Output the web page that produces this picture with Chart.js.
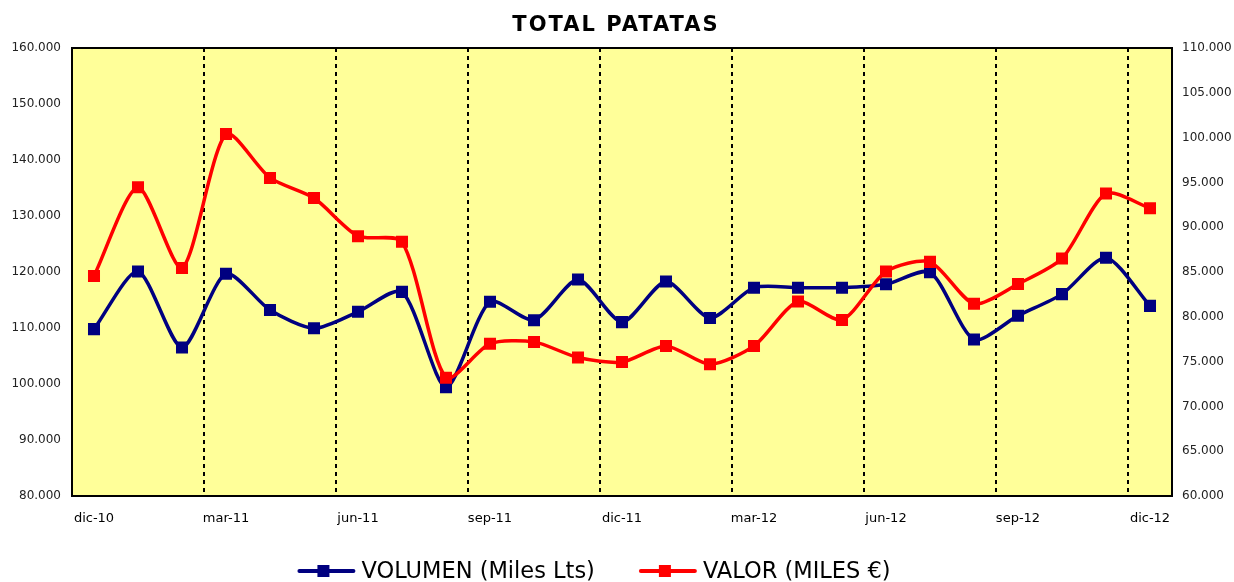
<!DOCTYPE html>
<html>
<head>
<meta charset="utf-8">
<title>Total patatas</title>
<script src="https://cdn.jsdelivr.net/npm/chart.js@4.4.0/dist/chart.umd.min.js"></script>
<style>
html, body { margin: 0; padding: 0; background: #fff; }
</style>
</head>
<body>
<canvas id="chart" width="1234" height="582"></canvas>
<script>
// months shown on the x axis (only every third label is printed)
var months = ['dic-10', 'ene-11', 'feb-11', 'mar-11', 'abr-11', 'may-11', 'jun-11', 'jul-11', 'ago-11',
    'sep-11', 'oct-11', 'nov-11', 'dic-11', 'ene-12', 'feb-12', 'mar-12', 'abr-12', 'may-12', 'jun-12',
    'jul-12', 'ago-12', 'sep-12', 'oct-12', 'nov-12', 'dic-12'];

// VOLUMEN (Miles Lts) - left axis
var volumen = [109800, 120100, 106500, 119700, 113200, 109950, 112900, 116450, 99400,
    114700, 111400, 118650, 111050, 118300, 111800, 117200, 117200, 117200, 117800,
    119950, 107950, 112200, 116050, 122550, 113950];

// VALOR (MILES €) - right axis
var valor = [84550, 94450, 85450, 100400, 95500, 93250, 89000, 88370, 73200,
    77000, 77200, 75450, 74950, 76750, 74700, 76750, 81700, 79650, 85050,
    86130, 81450, 83660, 86500, 93750, 92120];

var leftMin = 80000, leftMax = 160000, leftStep = 10000;
var rightMin = 60000, rightMax = 110000, rightStep = 5000;

var chartTitle = 'TOTAL PATATAS';

function miles(v) {
    return Math.round(v).toString().replace(/\B(?=(\d{3})+(?!\d))/g, '.');
}

// yellow plot area, black frame, title and the legend (line + square marker)
var frameAndLegend = {
    id: 'frameAndLegend',
    beforeDraw: function(chart) {
        var a = chart.chartArea, ctx = chart.ctx;
        ctx.save();
        ctx.fillStyle = '#FFFF99';
        ctx.fillRect(a.left, a.top, a.right - a.left, a.bottom - a.top);
        ctx.restore();
    },
    afterDraw: function(chart) {
        var a = chart.chartArea, ctx = chart.ctx;
        ctx.save();
        ctx.strokeStyle = '#000';
        ctx.lineWidth = 2;
        ctx.strokeRect(a.left, a.top, a.right - a.left, a.bottom - a.top);

        // title
        ctx.fillStyle = '#000';
        ctx.font = 'bold 21px "DejaVu Sans"';
        ctx.letterSpacing = '2px';
        ctx.textAlign = 'center';
        ctx.textBaseline = 'middle';
        ctx.fillText(chartTitle, 616, 26);
        ctx.letterSpacing = '0px';

        // legend
        var sets = chart.data.datasets;
        var lineLen = 58, textGap = 6, itemGap = 44;
        ctx.font = '22.5px "DejaVu Sans"';
        var widths = sets.map(function(ds) {
            return lineLen + textGap + ctx.measureText(ds.label).width;
        });
        var total = widths.reduce(function(s, w) { return s + w; }, 0) + itemGap * (sets.length - 1);
        var x = 594 - total / 2;
        var y = 571;
        ctx.textAlign = 'left';
        sets.forEach(function(ds, i) {
            ctx.strokeStyle = ds.borderColor;
            ctx.lineWidth = 4;
            ctx.lineCap = 'round';
            ctx.beginPath();
            ctx.moveTo(x + 2, y);
            ctx.lineTo(x + lineLen - 2, y);
            ctx.stroke();
            ctx.fillStyle = ds.borderColor;
            ctx.fillRect(x + 26 - 6, y - 6, 12, 12);
            ctx.fillStyle = '#000';
            ctx.fillText(ds.label, x + lineLen + textGap, y + 1);
            x += widths[i] + itemGap;
        });
        ctx.restore();
    }
};

var ctx = document.getElementById('chart').getContext('2d');
new Chart(ctx, {
    type: 'line',
    data: {
        labels: months,
        datasets: [{
            label: 'VOLUMEN (Miles Lts)',
            data: volumen,
            yAxisID: 'y',
            borderColor: '#000080',
            backgroundColor: '#000080',
            borderWidth: 3.5,
            tension: 0.25,
            pointStyle: 'rect',
            pointRadius: 8.5,
            pointBorderWidth: 0,
            pointBackgroundColor: '#000080',
            order: 1
        }, {
            label: 'VALOR (MILES €)',
            data: valor,
            yAxisID: 'y1',
            borderColor: '#FF0000',
            backgroundColor: '#FF0000',
            borderWidth: 3.5,
            tension: 0.25,
            pointStyle: 'rect',
            pointRadius: 8.5,
            pointBorderWidth: 0,
            pointBackgroundColor: '#FF0000',
            order: 0
        }]
    },
    options: {
        responsive: false,
        animation: false,
        layout: { padding: { left: 0, right: 0, top: 48, bottom: 52 } },
        plugins: {
            legend: { display: false },
            title: { display: false },
            tooltip: { enabled: false }
        },
        scales: {
            x: {
                offset: true,
                grid: {
                    offset: true,
                    drawTicks: false,
                    lineWidth: 2,
                    borderDash: [4, 4],
                    color: function(c) { return c.index % 3 === 0 ? '#000' : 'rgba(0,0,0,0)'; }
                },
                border: { display: false, dash: [4, 4] },
                ticks: {
                    autoSkip: false,
                    maxRotation: 0,
                    padding: 15,
                    color: '#000',
                    font: { family: 'DejaVu Sans', size: 13 },
                    callback: function(v, i) { return i % 3 === 0 ? this.getLabelForValue(v) : ''; }
                },
                afterFit: function(s) { s.height = 34; }
            },
            y: {
                position: 'left',
                min: leftMin,
                max: leftMax,
                grid: { display: false, drawTicks: false },
                border: { display: false },
                ticks: {
                    stepSize: leftStep,
                    padding: 11,
                    color: '#222',
                    font: { family: 'DejaVu Sans', size: 12 },
                    callback: function(v) { return miles(v); }
                },
                afterFit: function(s) { s.width = 72; }
            },
            y1: {
                position: 'right',
                min: rightMin,
                max: rightMax,
                grid: { display: false, drawTicks: false },
                border: { display: false },
                ticks: {
                    stepSize: rightStep,
                    padding: 10,
                    color: '#222',
                    font: { family: 'DejaVu Sans', size: 12 },
                    callback: function(v) { return miles(v); }
                },
                afterFit: function(s) { s.width = 62; }
            }
        }
    },
    plugins: [frameAndLegend]
});
</script>
</body>
</html>
